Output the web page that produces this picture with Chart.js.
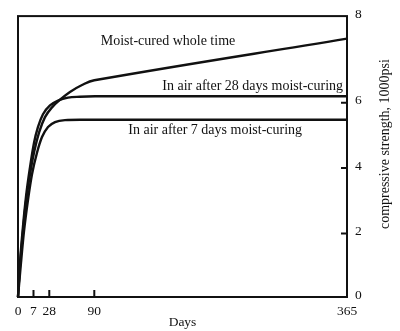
<!DOCTYPE html>
<html>
<head>
<meta charset="utf-8">
<script src="https://cdn.jsdelivr.net/npm/chart.js@4.4.1/dist/chart.umd.min.js"></script>
<style>
  html, body { margin: 0; padding: 0; background: #fff; }
  #wrap { width: 400px; height: 331px; position: relative; }
</style>
</head>
<body>
<div id="wrap"><canvas id="myChart"></canvas></div>
<script>
// tick labels (days, 1000 psi)
let dayTicks = [0, 7, 28, 90, 365];
let strengthTicks = [0, 2, 4, 6, 8];

// moist-cured whole time
let moistDays = [0, 0.9, 2.26, 3.61, 5.42, 7.66, 14.3, 22.3, 31.7, 42.7, 56.5, 73.1, 90, 365];
let moistVals = [0, 0.99, 2.07, 2.97, 3.81, 4.47, 5.08, 5.56, 5.86, 6.07, 6.25, 6.41, 6.52, 7.48];

// in air after 28 days moist-curing
let air28Days = [0, 0.9, 2.26, 3.61, 5.42, 7.66, 13.0, 19.6, 29.0, 40.0, 53.8, 70.3, 90.8, 365];
let air28Vals = [0, 1.08, 2.22, 3.12, 4.02, 4.77, 5.26, 5.65, 5.92, 6.05, 6.12, 6.14, 6.15, 6.15];

// in air after 7 days moist-curing
let air7Days = [0, 1.35, 2.71, 4.52, 6.32, 11.65, 18.3, 26.3, 35.9, 49.6, 70.3, 365];
let air7Vals = [0, 1.08, 2.07, 3.03, 3.81, 4.47, 4.95, 5.26, 5.41, 5.47, 5.48, 5.48];

let curveLabels = ['Moist-cured whole time', 'In air after 28 days moist-curing', 'In air after 7 days moist-curing'];
let labelDays = [97, 164, 127];
let labelVals = [7.33, 6.30, 5.05];

// the drawing's axes are not evenly spaced: fraction of the axis where each tick sits
const axisStops = {
  x: [0, 0.0471, 0.0951, 0.2319, 1],
  y: [0, 0.2262, 0.4591, 0.6913, 1]
};

class PiecewiseScale extends Chart.LinearScale {
  stops() { return this.axis === 'x' ? [dayTicks, axisStops.x] : [strengthTicks, axisStops.y]; }
  getPixelForValue(v) {
    const [vals, pos] = this.stops();
    let i = 1;
    while (i < vals.length - 1 && v > vals[i]) i++;
    const t = (v - vals[i - 1]) / (vals[i] - vals[i - 1]);
    return this.getPixelForDecimal(pos[i - 1] + t * (pos[i] - pos[i - 1]));
  }
  getValueForPixel(p) {
    const [vals, pos] = this.stops();
    const d = this.getDecimalForPixel(p);
    let i = 1;
    while (i < pos.length - 1 && d > pos[i]) i++;
    const t = (d - pos[i - 1]) / (pos[i] - pos[i - 1]);
    return vals[i - 1] + t * (vals[i] - vals[i - 1]);
  }
}
PiecewiseScale.id = 'piecewise';
PiecewiseScale.defaults = {};
Chart.register(PiecewiseScale);

const serif = '"Liberation Serif", "Times New Roman", serif';

function pts(xs, ys) { return xs.map((x, i) => ({ x: x, y: ys[i] })); }

function lineSet(label, xs, ys, smooth) {
  let ds = {
    label: label,
    data: pts(xs, ys),
    borderColor: '#111',
    borderWidth: 2.4,
    pointRadius: 0,
    clip: 4,
    fill: false
  };
  if (smooth) ds.cubicInterpolationMode = 'monotone';
  else ds.tension = 0.4; // keeps the 90-365 stretch straight
  return ds;
}

const frame = {
  id: 'frame',
  afterDatasetsDraw(chart) {
    const ctx = chart.ctx, a = chart.chartArea;
    const xs = chart.scales.x, ys = chart.scales.y;
    ctx.save();
    ctx.strokeStyle = '#111';
    ctx.lineWidth = 2;
    ctx.strokeRect(a.left, a.top, a.right - a.left, a.bottom - a.top);
    ctx.beginPath();
    dayTicks.slice(1, -1).forEach(d => {
      const px = xs.getPixelForValue(d);
      ctx.moveTo(px, a.bottom);
      ctx.lineTo(px, a.bottom - 7);
    });
    strengthTicks.slice(1, -1).forEach(v => {
      const py = ys.getPixelForValue(v);
      ctx.moveTo(a.right, py);
      ctx.lineTo(a.right - 6, py);
    });
    ctx.stroke();

    ctx.fillStyle = '#111';
    ctx.font = '14px ' + serif;
    ctx.textAlign = 'left';
    ctx.textBaseline = 'alphabetic';
    curveLabels.forEach((t, i) => {
      ctx.fillText(t, xs.getPixelForValue(labelDays[i]), ys.getPixelForValue(labelVals[i]));
    });

    ctx.translate(a.right + 38, a.top + 128);
    ctx.rotate(-Math.PI / 2);
    ctx.textAlign = 'center';
    ctx.textBaseline = 'middle';
    ctx.font = '14px ' + serif;
    ctx.fillText('compressive strength, 1000psi', 0, 0);
    ctx.restore();
  }
};

var ctx = document.getElementById('myChart');
var myChart = new Chart(ctx, {
  type: 'line',
  data: {
    datasets: [
      lineSet(curveLabels[0], moistDays, moistVals, false),
      lineSet(curveLabels[1], air28Days, air28Vals, true),
      lineSet(curveLabels[2], air7Days, air7Vals, true)
    ]
  },
  options: {
    responsive: true,
    maintainAspectRatio: false,
    animation: false,
    devicePixelRatio: 1,
    layout: { padding: { top: 11, left: 18, right: 0, bottom: 0 } },
    plugins: { legend: { display: false }, tooltip: { enabled: false } },
    scales: {
      x: {
        type: 'piecewise',
        position: 'bottom',
        min: 0, max: 365,
        afterBuildTicks: s => { s.ticks = dayTicks.map(v => ({ value: v })); },
        afterFit: s => { s.height = 34; },
        grid: { display: false, drawTicks: false },
        border: { display: false },
        ticks: { color: '#111', font: { family: serif, size: 13.5 }, padding: 6, maxRotation: 0, autoSkip: false },
        title: { display: true, text: 'Days', color: '#111', font: { family: serif, size: 13.5 }, padding: { top: 0, bottom: 0 } }
      },
      y: {
        type: 'piecewise',
        position: 'right',
        min: 0, max: 8,
        afterBuildTicks: s => { s.ticks = strengthTicks.map(v => ({ value: v })); },
        afterFit: s => { s.width = 53; },
        grid: { display: false, drawTicks: false },
        border: { display: false },
        ticks: { color: '#111', font: { family: serif, size: 13.5 }, padding: 8, labelOffset: -2 }
      }
    }
  },
  plugins: [frame]
});
</script>
</body>
</html>
